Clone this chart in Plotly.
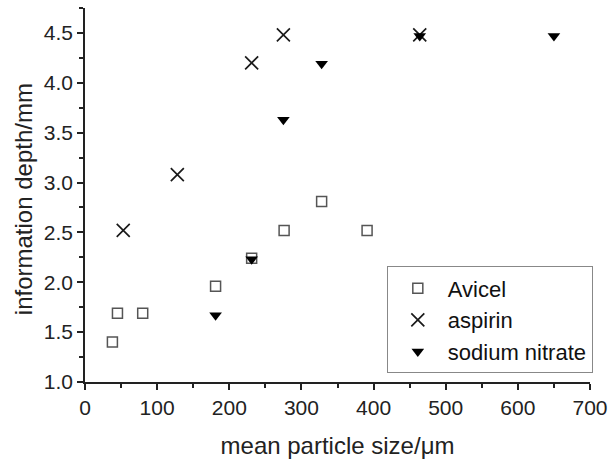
import plotly.graph_objects as go

avicel_x = [38, 45, 80, 181, 231, 276, 328, 391]
avicel_y = [1.40, 1.69, 1.69, 1.96, 2.24, 2.52, 2.81, 2.52]

aspirin_x = [53, 128, 231, 275, 464]
aspirin_y = [2.52, 3.08, 4.20, 4.48, 4.48]

nitrate_x = [181, 231, 275, 328, 464, 650]
nitrate_y = [1.67, 2.23, 3.63, 4.19, 4.47, 4.47]

x_ticks = [0, 100, 200, 300, 400, 500, 600, 700]
y_ticks = [1.0, 1.5, 2.0, 2.5, 3.0, 3.5, 4.0, 4.5]

FONT = "Arial, Liberation Sans, sans-serif"

fig = go.Figure()
fig.add_trace(go.Scatter(
    x=avicel_x, y=avicel_y, mode="markers", name="Avicel",
    marker=dict(symbol="square-open", size=10, color="#555555", line=dict(width=1.5, color="#555555")),
))
fig.add_trace(go.Scatter(
    x=aspirin_x, y=aspirin_y, mode="markers", name="aspirin",
    marker=dict(symbol="x-thin-open", size=13, color="#1a1a1a", line=dict(width=1.7, color="#1a1a1a")),
))
fig.add_trace(go.Scatter(
    x=nitrate_x, y=nitrate_y, mode="markers", name="sodium nitrate",
    marker=dict(symbol="triangle-down", size=11, color="#000000", line=dict(width=0)),
))

fig.update_layout(
    width=616, height=463,
    margin=dict(l=85, r=19, t=8, b=80),
    paper_bgcolor="white", plot_bgcolor="white",
    font=dict(family=FONT, size=20, color="#222222"),
    showlegend=True,
    legend=dict(
        x=(391 - 85) / 512, y=(383.3 - 321) / 375.3, xanchor="left", yanchor="middle",
        bordercolor="#888888", borderwidth=1, bgcolor="white",
        font=dict(family=FONT, size=22, color="#111111"),
        itemwidth=50, tracegroupgap=0,
    ),
    xaxis=dict(
        range=[0, 700], tickvals=x_ticks, ticktext=[str(v) for v in x_ticks],
        showgrid=False, zeroline=False, showline=True, linecolor="#222222", linewidth=1.5,
        ticks="outside", ticklen=6, tickwidth=1.5, tickcolor="#222222",
        minor=dict(ticks="outside", ticklen=4, tickwidth=1.5, tickcolor="#222222", dtick=50, showgrid=False),
        tickfont=dict(size=21),
        title=dict(text="mean particle size/μm", font=dict(size=24), standoff=19),
    ),
    yaxis=dict(
        range=[1, 4.75], tickvals=y_ticks, ticktext=[f"{v:.1f}" for v in y_ticks],
        showgrid=False, zeroline=False, showline=True, linecolor="#222222", linewidth=1.5,
        ticks="outside", ticklen=6, tickwidth=1.5, tickcolor="#222222",
        minor=dict(ticks="outside", ticklen=4, tickwidth=1.5, tickcolor="#222222", dtick=0.25, showgrid=False),
        tickfont=dict(size=21),
    ),
    annotations=[dict(
        text="information depth/mm", textangle=-90, showarrow=False,
        xref="paper", yref="paper", x=-(85 - 22) / 512, y=(383.3 - 200) / 375.3,
        xanchor="center", yanchor="middle",
        font=dict(family=FONT, size=24, color="#222222"),
    )],
)

fig.write_html("out.html")
